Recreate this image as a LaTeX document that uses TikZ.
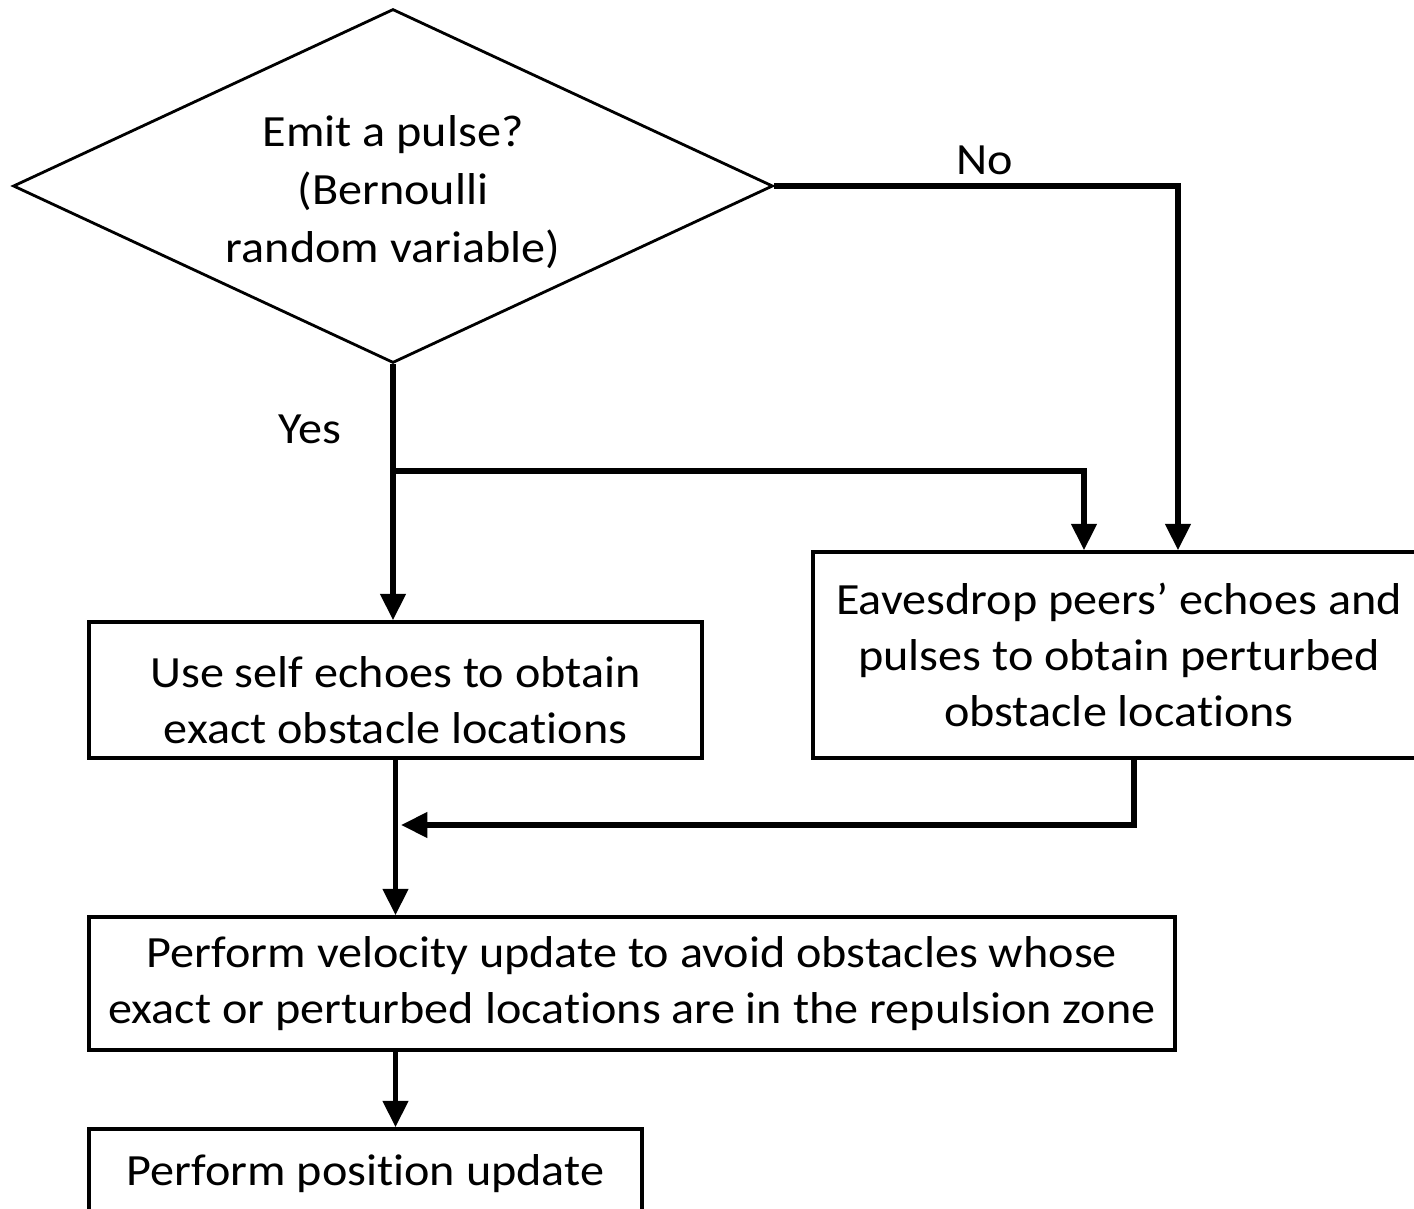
\documentclass[tikz,border=0pt]{standalone}
\usepackage{fontspec}
\setmainfont[FakeStretch=1.08,RawFeature={-liga;-clig;-dlig;-calt;-rlig}]{Carlito}
\usetikzlibrary{shapes.geometric,arrows.meta}

\begin{document}
\begin{tikzpicture}[x=0.02cm,y=-0.02cm,
  font=\fontsize{25.4}{32}\selectfont,
  stepbox/.style={draw,line width=2pt,align=center,inner sep=0pt},
  link/.style={line width=3.1pt},
  arr/.style={link,-{Triangle[width=14pt,length=15pt]}}]
\useasboundingbox (0,0) rectangle (1414,1209);

% decision
\node[draw,diamond,aspect=2.147,line width=1.6pt,inner sep=0pt,align=center,
  font=\fontsize{25.4}{33}\selectfont,
  minimum width=15.2cm,minimum height=7.08cm] (emit) at (393,186)
  {\rule{0pt}{0.86cm}Emit a pulse?\\(Bernoulli\\random variable)};
\node (no) at (985,160) {No};
\node (yes) at (310,429) {Yes};

% boxes
\node[stepbox,minimum width=12.26cm,minimum height=2.72cm] (self) at (395.5,690)
  {\rule{0pt}{1.04cm}Use self echoes to obtain\\exact obstacle locations};
\node[stepbox,minimum width=12.24cm,minimum height=4.12cm] (peer) at (1119,655)
  {Eavesdrop peers’ echoes and\\pulses to obtain perturbed\\obstacle locations};
\node[stepbox,minimum width=21.72cm,minimum height=2.66cm] (vel) at (632,983.5)
  {Perform velocity update to avoid obstacles whose\\exact or perturbed locations are in the repulsion zone};
\node[stepbox,minimum width=11.06cm,minimum height=1.8cm] (pos) at (365.5,1174)
  {Perform position update};

% connectors
\coordinate (split) at (emit.south |- 0,471);
\coordinate (join) at (401,825);
\draw[arr] (emit.south) -- (emit.south |- self.north);
\draw[arr] (split) -| ([xshift=-0.7cm]peer.north);
\draw[arr] (emit.east) -| ([xshift=1.18cm]peer.north);
\draw[arr] ([xshift=0.3cm]peer.south) |- (join);
\draw[arr] (self.south) -- (self.south |- vel.north);
\draw[arr] (self.south |- vel.south) -- (self.south |- pos.north);
\end{tikzpicture}
\end{document}
